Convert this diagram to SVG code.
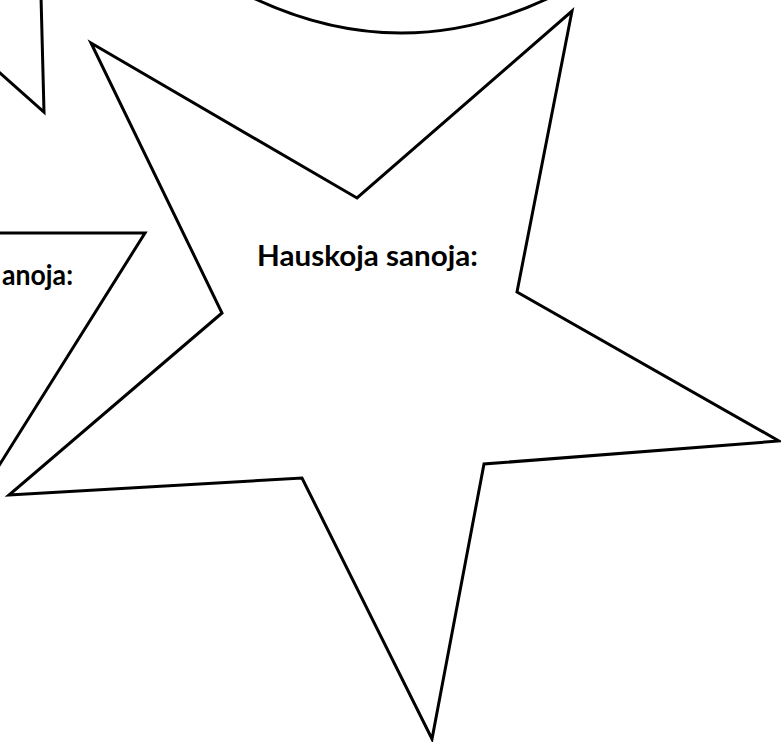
<svg xmlns="http://www.w3.org/2000/svg" width="781" height="742" viewBox="0 0 781 742">
  <style>
    .shape { fill: #ffffff; stroke: #000000; stroke-width: 3; stroke-linejoin: miter; stroke-miterlimit: 20; }
    .open { fill: none; stroke: #000000; stroke-width: 3; stroke-linejoin: miter; stroke-miterlimit: 20; }
    .label { font-family: Lato, "Open Sans", "Liberation Sans", sans-serif; font-weight: bold; font-size: 28px; fill: #000000; }
  </style>
  <rect x="0" y="0" width="781" height="742" fill="#ffffff"/>
  <g id="ellipse-top">
    <path class="open" d="M 241 -8 Q 401 74 561 -8"/>
  </g>
  <g id="shape-top-left">
    <path class="open" d="M 41 -4 L 44 112 L -10 64"/>
  </g>
  <g id="star-left">
    <path class="open" d="M -5 233 L 145 233 L -5 472"/>
    <text class="label" x="2" y="285" textLength="71" lengthAdjust="spacingAndGlyphs">anoja:</text>
  </g>
  <g id="star-main">
    <polygon class="shape" points="91,43 357,198 572,11 517,292 779,441 484,464 432,739 302,478 9,495 222,313"/>
    <text class="label" x="257" y="266" textLength="221" lengthAdjust="spacingAndGlyphs">Hauskoja sanoja:</text>
  </g>
</svg>
